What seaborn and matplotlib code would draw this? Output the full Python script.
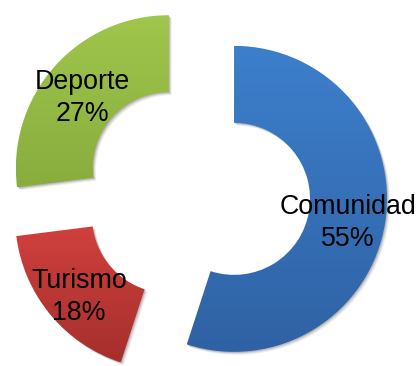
import numpy as np
import matplotlib
matplotlib.use("Agg")
import matplotlib.pyplot as plt
import seaborn as sns
from matplotlib.patches import Wedge
from matplotlib.colors import LinearSegmentedColormap

categories = ["Comunidad", "Turismo", "Deporte"]
percentages = [55, 18, 27]
top_colors = ["#3D7FCC", "#D0403D", "#A0C64C"]
bottom_colors = ["#2F62A4", "#A52F2D", "#88AD3E"]

sns.set_theme(style="white")
plt.rcParams["font.family"] = ["Liberation Sans", "DejaVu Sans"]

fig = plt.figure(figsize=(4.2, 3.66), dpi=100)
ax = fig.add_axes([0, 0, 1, 1])

labels = [f"{c}\n{p}%" for c, p in zip(categories, percentages)]
wedges, texts = ax.pie(
    percentages, labels=labels, explode=[37.5] * 3, startangle=90,
    counterclock=False, center=(197, 173), radius=153, labeldistance=0.755,
    wedgeprops=dict(width=77, linewidth=0),
    textprops=dict(ha="center", va="center_baseline", fontsize=19.3,
                   linespacing=1.32, color="black", zorder=5),
)

# vertical gradient fill for each ring segment, with a soft drop shadow
for w, top, bot in zip(wedges, top_colors, bottom_colors):
    w.set_facecolor("none")
    for k, a in [(3, 0.06), (2, 0.10), (1, 0.14)]:
        sh = Wedge((w.center[0] + k, w.center[1] - k), w.r, w.theta1, w.theta2,
                   width=w.width, facecolor="black", alpha=a, linewidth=0, zorder=0.5)
        ax.add_patch(sh)
    ext = w.get_path().get_extents()
    cmap = LinearSegmentedColormap.from_list("grad", [bot, top])
    grad = np.linspace(0, 1, 256).reshape(-1, 1)
    im = ax.imshow(grad, cmap=cmap, extent=[ext.x0, ext.x1, ext.y0, ext.y1],
                   origin="lower", aspect="auto", zorder=1.5)
    im.set_clip_path(w)

ax.set_xlim(0, 420)
ax.set_ylim(0, 366)
ax.set_aspect("equal")
ax.axis("off")
fig.savefig("out.png", dpi=100, facecolor="white")
